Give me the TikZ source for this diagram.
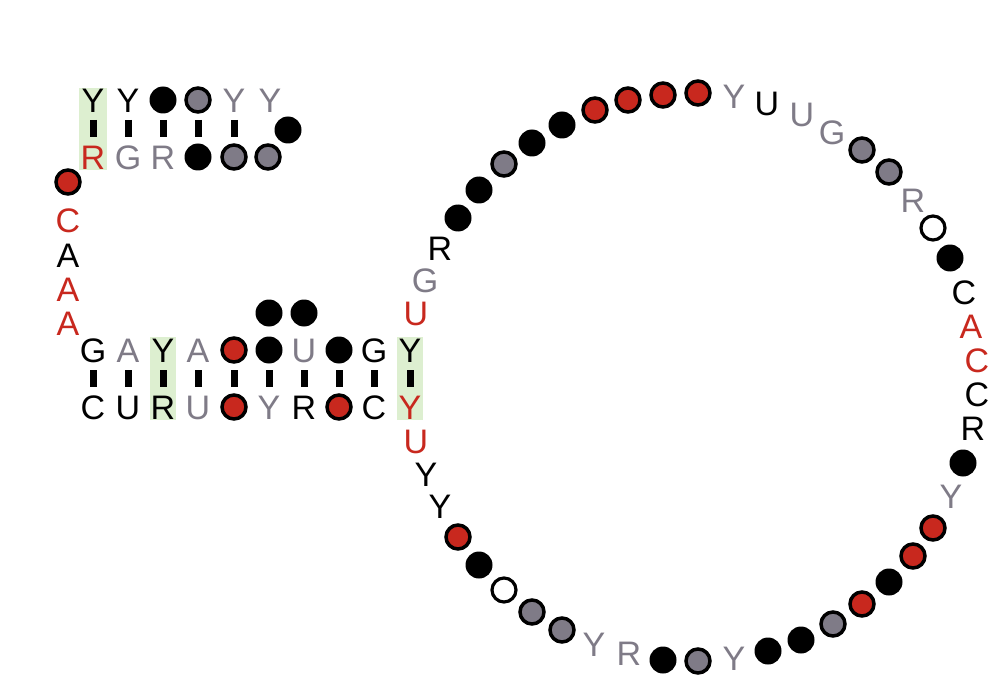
\documentclass[tikz,border=0pt]{standalone}
\usepackage{fontspec}
\setmainfont{Liberation Sans}
\usetikzlibrary{backgrounds}

\begin{document}
\begin{tikzpicture}[x=1pt, y=-1pt]
    % Define colours
    \definecolor{ntRed}{HTML}{C8281E}
    \definecolor{ntGrey}{HTML}{7F7B87}
    \definecolor{pairGreen}{HTML}{DDEFD0}

    % Define styles
    \tikzset{
        nt/.style={inner sep=0pt, text height=24.5pt, text depth=0pt, font=\fontsize{34}{34}\selectfont},
        ntblack/.style={nt, text=black},
        ntgrey/.style={nt, text=ntGrey},
        ntred/.style={nt, text=ntRed},
        dot/.style={circle, inner sep=0pt},
        dotblack/.style={dot, fill=black, minimum size=27pt},
        dotgrey/.style={dot, draw=black, line width=3.5pt, fill=ntGrey, minimum size=24pt},
        dotred/.style={dot, draw=black, line width=3.5pt, fill=ntRed, minimum size=24pt},
        dotopen/.style={dot, draw=black, line width=3.2pt, fill=white, minimum size=24pt},
        pairbar/.style={line width=7pt, shorten <=20pt, shorten >=20pt},
        pairbox/.style={fill=pairGreen}
    }

    % Fix picture size
    \useasboundingbox (0,0) rectangle (1002,690);

    % Draw upper hairpin
    \foreach \x/\s/\t [count=\i] in {93/ntblack/Y, 128/ntblack/Y, 163/dotblack/{}, 198/dotgrey/{}, 234/ntgrey/Y, 270/ntgrey/Y}
        \node[\s] (hpTop\i) at (\x,100) {\t};
    \foreach \x/\s/\t [count=\i] in {93/ntred/R, 128/ntgrey/G, 163/ntgrey/R, 198/dotblack/{}, 234/dotgrey/{}, 268/dotgrey/{}}
        \node[\s] (hpBot\i) at (\x,157) {\t};
    \node[dotblack] (hpLoop) at (288,130) {};
    \foreach \i in {1,...,5}
        \draw[pairbar] (hpTop\i.center) -- (hpBot\i.center);

    % Draw linker
    \foreach \y/\s/\t [count=\i] in {182/dotred/{}, 220/ntred/C, 255/ntblack/A, 289/ntred/A, 323/ntred/A}
        \node[\s] (link\i) at (68,\y) {\t};

    % Draw lower stem
    \foreach \x/\s/\t [count=\i] in {93/ntblack/G, 128/ntgrey/A, 163/ntblack/Y, 198/ntgrey/A, 234/dotred/{}, 269/dotblack/{}, 304/ntgrey/U, 339/dotblack/{}, 374/ntblack/G, 410/ntblack/Y}
        \node[\s] (stTop\i) at (\x,350) {\t};
    \foreach \x/\s/\t [count=\i] in {93/ntblack/C, 128/ntblack/U, 163/ntblack/R, 198/ntgrey/U, 234/dotred/{}, 269/ntgrey/Y, 304/ntblack/R, 339/dotred/{}, 374/ntblack/C, 410/ntred/Y}
        \node[\s] (stBot\i) at (\x,407) {\t};
    \foreach \i in {1,...,10}
        \draw[pairbar] (stTop\i.center) -- (stBot\i.center);

    % Bulge
    \node[dotblack] (bulge1) at (269,313) {};
    \node[dotblack] (bulge2) at (304,313) {};

    % Draw big loop
    \foreach \x/\y/\s/\t [count=\i] in {
        416/313/ntred/U, 425/280/ntgrey/G, 440/248/ntblack/R, 458/218/dotblack/{},
        479/190/dotblack/{}, 504/164/dotgrey/{}, 532/143/dotblack/{}, 562/125/dotblack/{},
        595/110/dotred/{}, 628/100/dotred/{}, 663/95/dotred/{}, 698/93/dotred/{},
        734/96/ntgrey/Y, 767/103/ntblack/U, 802/114/ntgrey/U, 832/132/ntgrey/G,
        862/150/dotgrey/{}, 889/172/dotgrey/{}, 913/200/ntgrey/R, 933/228/dotopen/{},
        950/258/dotblack/{}, 964/292/ntblack/C, 971/326/ntred/A, 977/360/ntred/C,
        977/394/ntblack/C, 973/428/ntblack/R, 963/463/dotblack/{}, 951/496/ntgrey/Y,
        933/528/dotred/{}, 913/556/dotred/{}, 889/582/dotblack/{}, 862/604/dotred/{},
        833/624/dotgrey/{}, 801/640/dotblack/{}, 768/651/dotblack/{}, 734/658/ntgrey/Y,
        698/661/dotgrey/{}, 663/660/dotblack/{}, 629/653/ntgrey/R, 594/644/ntgrey/Y,
        562/630/dotgrey/{}, 532/612/dotgrey/{}, 504/590/dotopen/{}, 479/565/dotblack/{},
        458/537/dotred/{}, 440/506/ntblack/Y, 426/474/ntblack/Y, 416/441/ntred/U}
        \node[\s] (loop\i) at (\x,\y) {\t};

    % Highlight covarying pairs
    \begin{scope}[on background layer]
        \fill[pairbox] ([xshift=-14pt, yshift=12pt]hpTop1.center) rectangle ([xshift=14pt, yshift=-13pt]hpBot1.center);
        \fill[pairbox] ([xshift=-13pt, yshift=13pt]stTop3.center) rectangle ([xshift=13pt, yshift=-13pt]stBot3.center);
        \fill[pairbox] ([xshift=-13pt, yshift=13pt]stTop10.center) rectangle ([xshift=13pt, yshift=-13pt]stBot10.center);
    \end{scope}

\end{tikzpicture}
\end{document}
